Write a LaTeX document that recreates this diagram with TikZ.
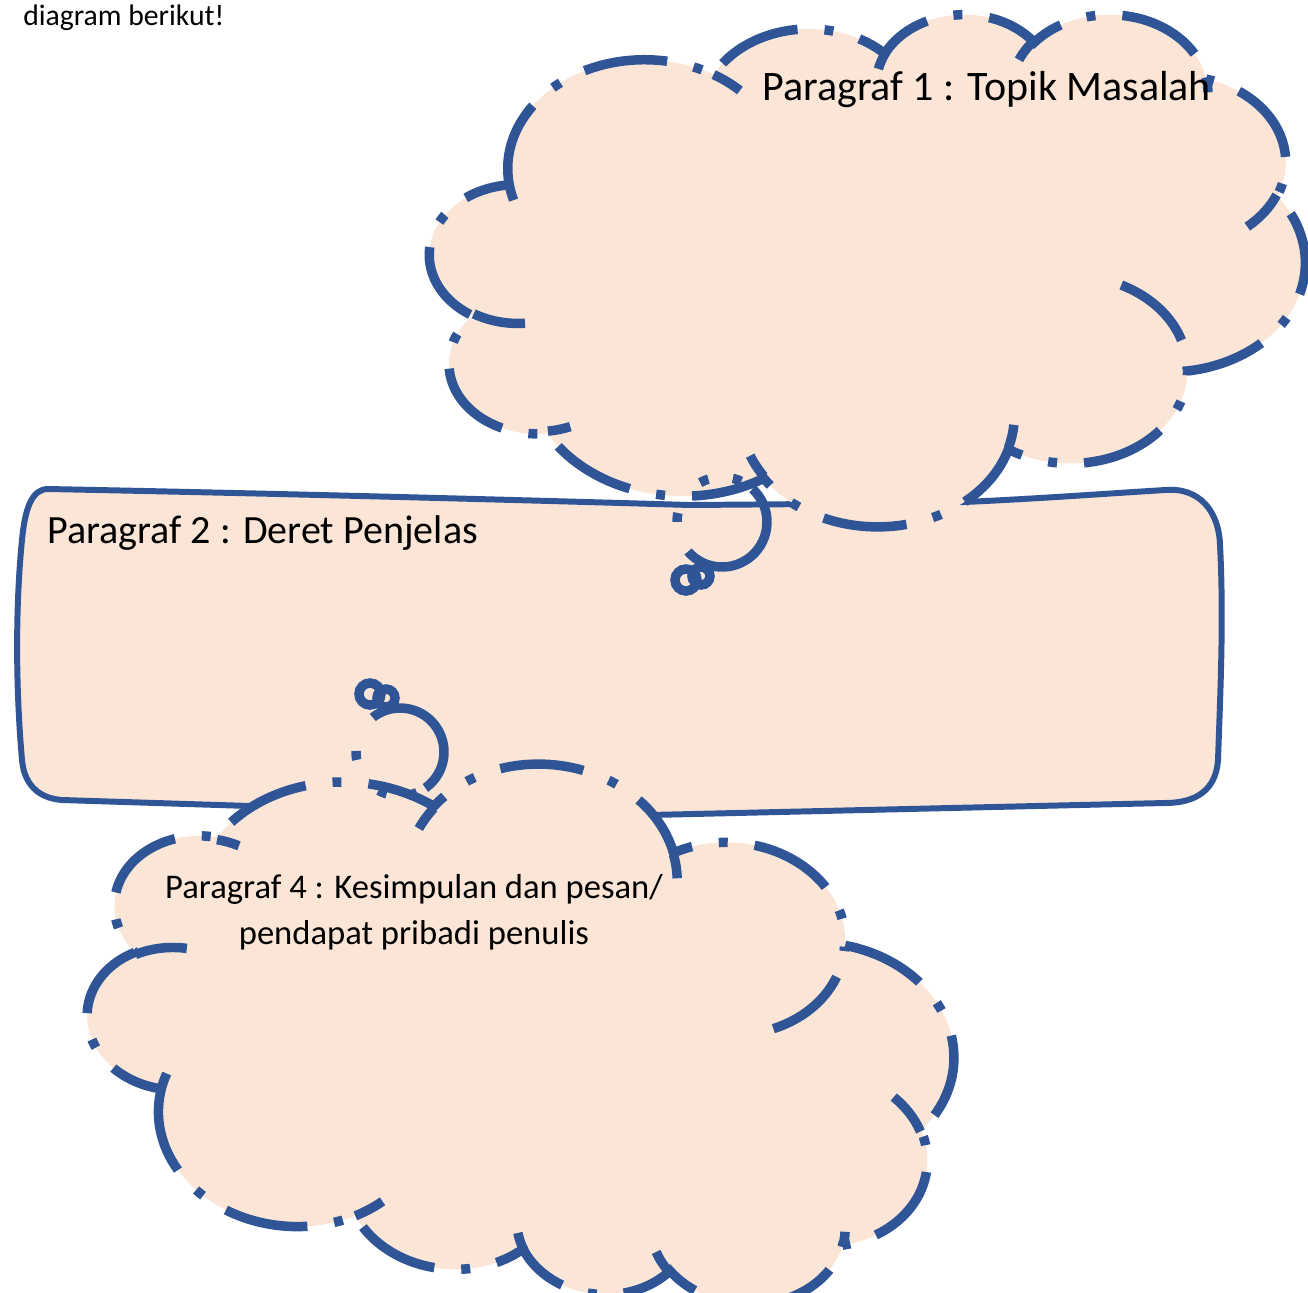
\documentclass[tikz,border=0pt]{standalone}
\usepackage{fontspec}
\setmainfont{Carlito}
\definecolor{peach}{RGB}{251,229,214}
\definecolor{cblue}{RGB}{47,85,151}
% arc with OOXML-style (visual) angles: rx, ry, start, sweep
\newcommand\carc[4]{arc[start angle={atan2((#1)*sin(#3),(#2)*cos(#3))}, delta angle={mod(atan2((#1)*sin((#3)+(#4)),(#2)*cos((#3)+(#4)))-atan2((#1)*sin(#3),(#2)*cos(#3))+720,360)}, x radius=#1, y radius=#2]}
\newcommand\cloudmain{(390,1437)
  \carc{675.3}{919.0}{-190.4875}{123.7805}
  \carc{533.3}{726.7}{-144.1024}{89.9452}
  \carc{436.5}{594.5}{-145.8079}{99.7230}
  \carc{485.7}{659.5}{-130.9861}{117.2417}
  \carc{533.3}{727.3}{-78.7089}{109.0269}
  \carc{677.5}{922.0}{-46.2673}{130.2690}
  \carc{578.5}{786.7}{0.6250}{114.0333}
  \carc{675.2}{921.5}{22.4516}{115.1726}
  \carc{772.0}{1054.3}{66.2426}{75.7110}
  \carc{436.0}{591.8}{-274.9421}{146.7356}
  \carc{434.5}{594.5}{-246.8285}{152.5189} -- cycle}
\newcommand\cloudcreases{
  (469.3,2617.7) \carc{434.5}{594.5}{86.742}{26.4295}
  (692.8,3489.9) \carc{436.0}{591.8}{73.6105}{11.4475}
  (1647.8,3909.0) \carc{675.2}{921.5}{137.6242}{14.0811}
  (2882.7,3475.1) \carc{675.2}{921.5}{6.4533}{15.9984}
  (3412.9,2295.4) \carc{578.5}{786.7}{-70.2924}{70.9174}
  (4179.8,1535.4) \carc{533.3}{727.3}{30.3180}{27.7515}
  (3832.4,542.6) \carc{485.7}{659.5}{-13.7443}{14.8589}
  (2907.8,395.2) \carc{485.7}{659.5}{-149.1815}{18.1954}
  (2214.1,472.0) \carc{436.5}{594.5}{-163.4943}{17.6864}
  (1400.0,519.2) \carc{675.3}{919.0}{-66.7070}{12.3194}
  (412.7,1578.9) \carc{675.3}{919.0}{157.6544}{11.8582}}
\begin{document}
\begin{tikzpicture}[x=0.02cm, y=-0.02cm,
  cloudline/.style={draw=cblue, line width=5.4pt, line cap=butt,
    dash pattern=on 47.8pt off 15.4pt on 5.1pt off 15.4pt},
  solidline/.style={draw=cblue, line width=5.4pt},
  rectline/.style={draw=cblue, line width=3.4pt, line join=round},
  txt/.style={inner sep=0pt, text=black}]
\useasboundingbox (0,0) rectangle (1308,1292);
\fill[white] (0,0) rectangle (1308,1292);

% Paragraf 2 box
\fill[peach] (48,489) .. controls (300,494) and (520,500) .. (690,505) -- (940,503)
  .. controls (1020,500) and (1100,494) .. (1165,490)
  .. controls (1200,487) and (1219,512) .. (1220,545)
  .. controls (1224,620) and (1220,700) .. (1218,760)
  .. controls (1216,790) and (1196,803) .. (1165,803) -- (650,815) -- (250,806) -- (62,800)
  .. controls (36,798) and (24,782) .. (22,760)
  .. controls (15,680) and (16,600) .. (22,540)
  .. controls (25,508) and (32,489) .. (48,489) -- cycle;
\draw[rectline] (48,489) .. controls (300,494) and (520,500) .. (690,505) -- (940,503)
  .. controls (1020,500) and (1100,494) .. (1165,490)
  .. controls (1200,487) and (1219,512) .. (1220,545)
  .. controls (1224,620) and (1220,700) .. (1218,760)
  .. controls (1216,790) and (1196,803) .. (1165,803) -- (650,815) -- (250,806) -- (62,800)
  .. controls (36,798) and (24,782) .. (22,760)
  .. controls (15,680) and (16,600) .. (22,540)
  .. controls (25,508) and (32,489) .. (48,489) -- cycle;

% Cloud 1 (Paragraf 1)
\begin{scope}[shift={(430,13)}, xscale=875/4320, yscale=512/4320]
  \fill[peach] \cloudmain;
  \draw[cloudline] \cloudmain;
  \draw[cloudline] \cloudcreases;
\end{scope}
\coordinate (b1) at (722,522);
\draw[draw=cblue, line width=5.4pt,
  dash pattern=on 83.1pt off 18.4pt on 5.1pt off 22.1pt on 5.1pt off 14.1pt on 5.1pt off 7.7pt]
  (b1) ++(-47:45) arc[start angle=-47, delta angle=360, radius=45];
\draw[solidline] (701,576) circle[radius=9];
\draw[solidline] (686,580) circle[radius=11];

% Cloud 4 (Paragraf 4), mirrored vertically and slightly turned
\begin{scope}[rotate around={-4:(521,1027)}, shift={(88,1290)}, xscale=867/4320, yscale=-525/4320]
  \fill[peach] \cloudmain;
  \draw[cloudline] \cloudmain;
  \draw[cloudline] \cloudcreases;
\end{scope}
\coordinate (b4) at (400,752);
\draw[draw=cblue, line width=5.4pt,
  dash pattern=on 79.7pt off 5.5pt on 5.1pt off 12.5pt on 5.1pt off 22pt on 5.1pt off 22pt]
  (b4) ++(-127.6:44) arc[start angle=-127.6, delta angle=360, radius=44];
\draw[solidline] (386,698) circle[radius=9];
\draw[solidline] (370,694) circle[radius=11];

% texts
\node[txt, anchor=base west, font=\fontsize{16.9pt}{20pt}\selectfont] (intro) at (23,25) {diagram berikut!};
\node[txt, anchor=base west, font=\fontsize{23.9pt}{28pt}\selectfont] (p1) at (762,100) {Paragraf 1 : Topik Masalah};
\node[txt, anchor=base west, font=\fontsize{22.8pt}{27pt}\selectfont] (p2) at (47,543) {Paragraf 2 : Deret Penjelas};
\node[txt, anchor=base, font=\fontsize{19.7pt}{26.2pt}\selectfont] (p4) at (414,898)
  {\begin{tabular}[t]{@{}c@{}}Paragraf 4 : Kesimpulan dan pesan/\\pendapat pribadi penulis\end{tabular}};
\end{tikzpicture}
\end{document}
